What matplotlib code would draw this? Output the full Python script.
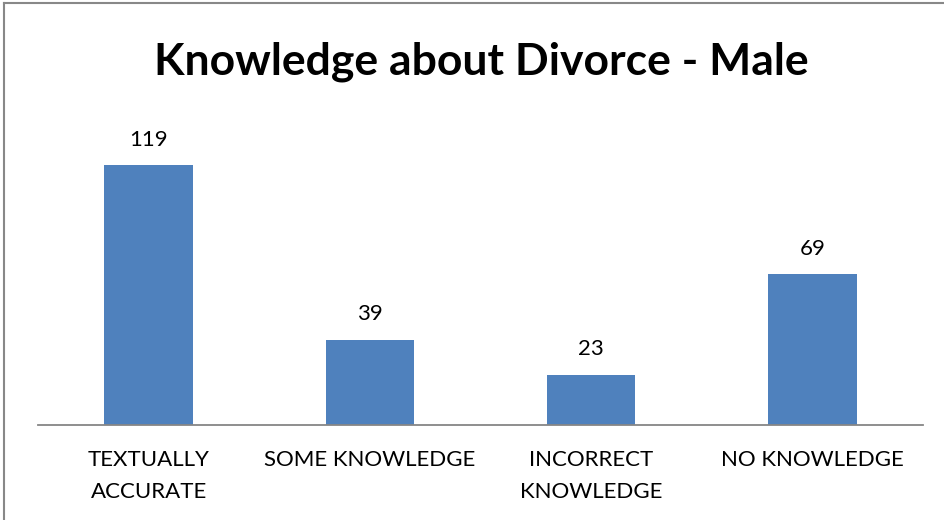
import matplotlib
matplotlib.use("Agg")
import matplotlib.pyplot as plt
from matplotlib.lines import Line2D

# knowledge categories and counts for male respondents
categories = ["TEXTUALLY\nACCURATE", "SOME KNOWLEDGE", "INCORRECT\nKNOWLEDGE", "NO KNOWLEDGE"]
counts = [119, 39, 23, 69]

bar_color = "#4F81BD"
font = "Lato"

fig = plt.figure(figsize=(9.45, 5.2), dpi=100)
ax = fig.add_axes([38 / 945, 95 / 520, 885 / 945, 306 / 520])

x = range(len(categories))
bars = ax.bar(x, counts, width=0.4, color=bar_color)
ax.set_xlim(-0.5, len(categories) - 0.5)
ax.set_ylim(0, 140)

for b, v in zip(bars, counts):
    ax.annotate(str(v), (b.get_x() + b.get_width() / 2, v), xytext=(0, 11),
                textcoords="offset points", ha="center", va="bottom",
                fontsize=16, family=font)

ax.set_xticks(list(x))
ax.set_xticklabels(categories, fontsize=16, family=font, linespacing=1.75)
ax.tick_params(axis="x", length=0, pad=18)
ax.set_yticks([])
for s in ["top", "right", "left"]:
    ax.spines[s].set_visible(False)
ax.spines["bottom"].set_color("#868686")
ax.spines["bottom"].set_linewidth(1.3)

fig.text(481 / 945, 1 - 62 / 520, "Knowledge about Divorce - Male", ha="center", va="center",
         fontsize=32, fontweight="bold", family=font)

# outer frame (left and top edges)
fig.add_artist(Line2D([4 / 945, 4 / 945], [0, 1 - 3 / 520], color="#888888", lw=1.5))
fig.add_artist(Line2D([4 / 945, 1], [1 - 3 / 520, 1 - 3 / 520], color="#888888", lw=1.5))

fig.savefig("out.png", dpi=100)
